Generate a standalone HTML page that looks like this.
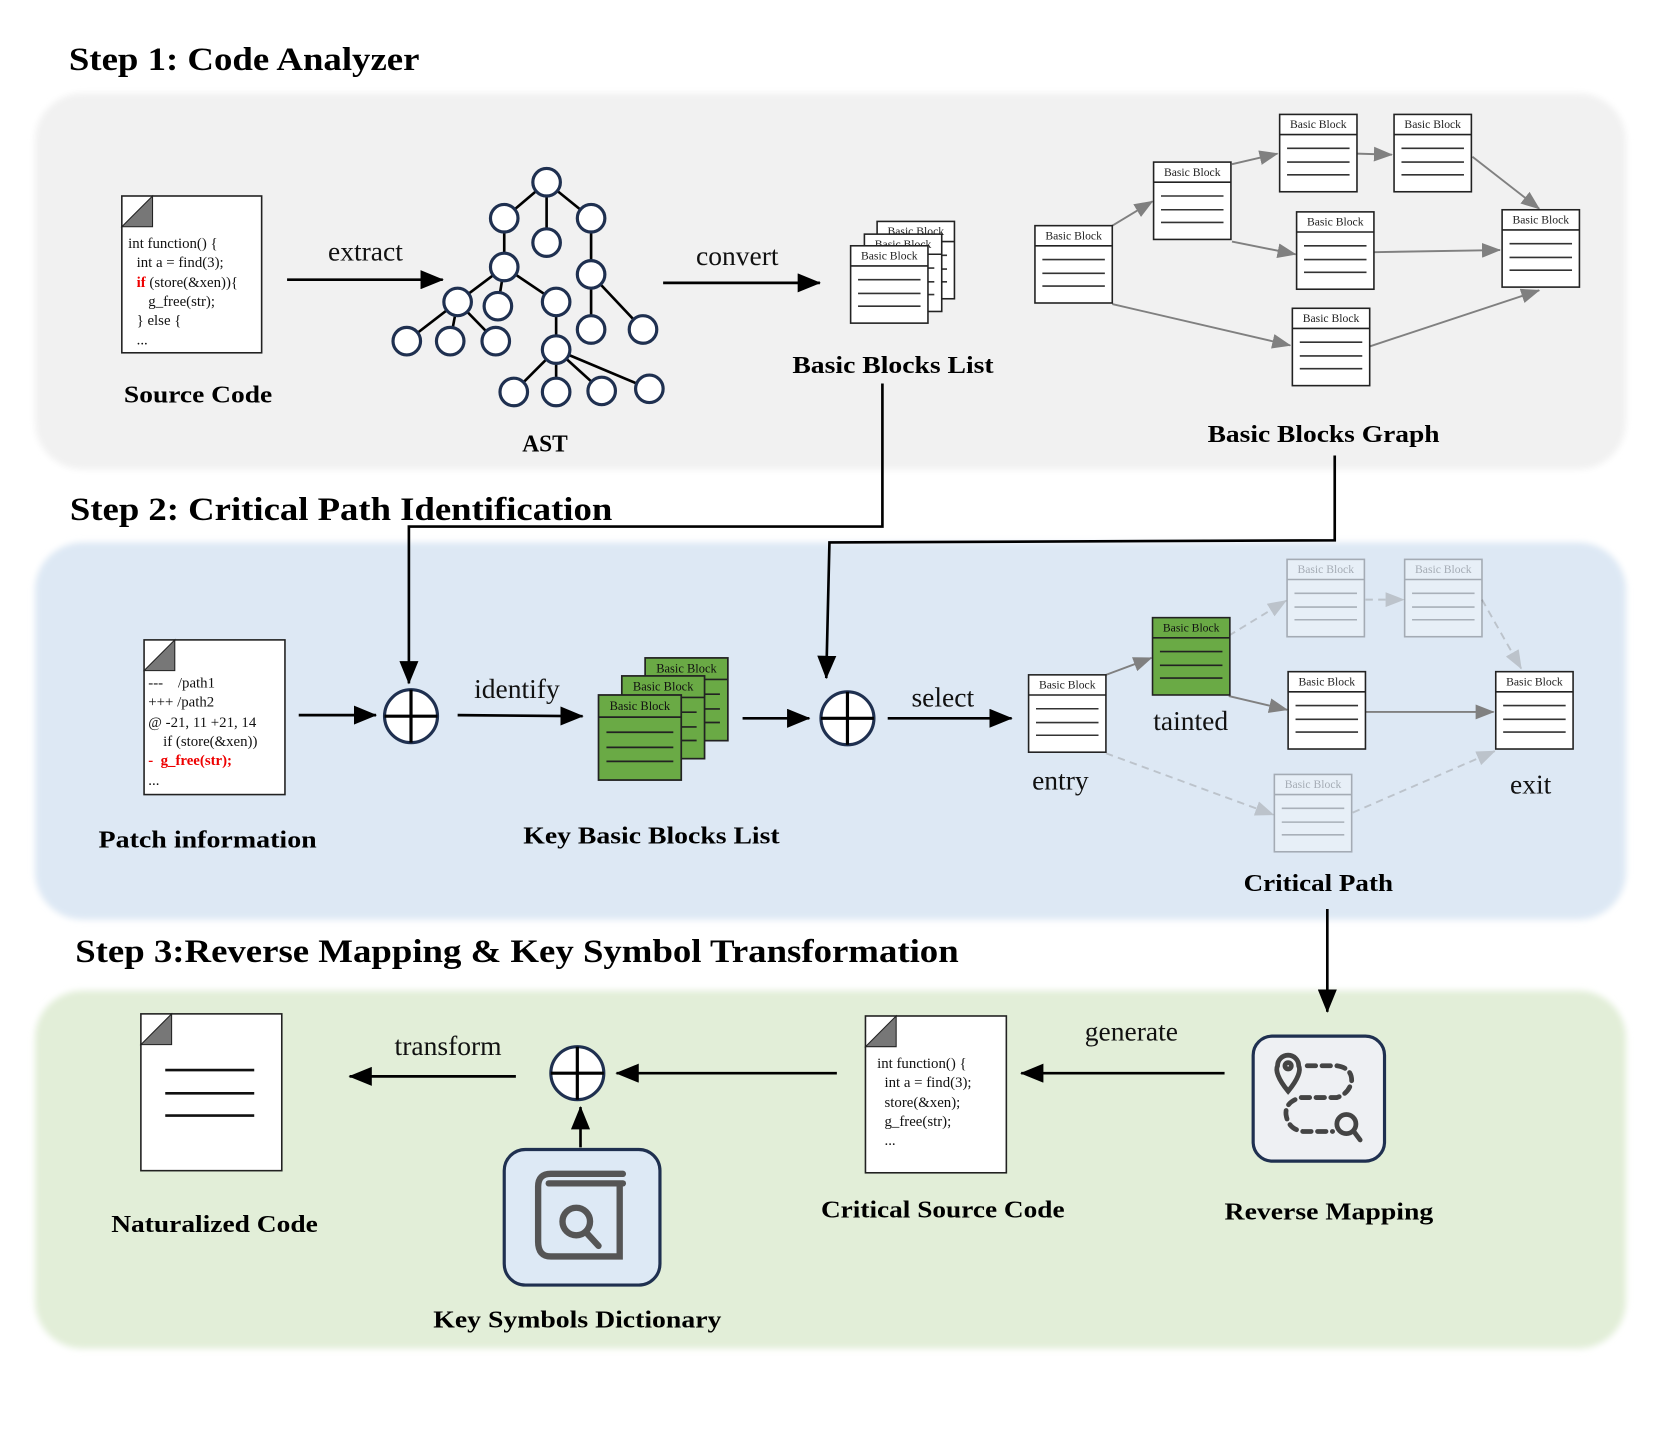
<!DOCTYPE html>
<html><head><meta charset="utf-8"><style>html,body{margin:0;padding:0;background:#fff}svg{display:block}</style></head>
<body>
<svg width="1661" height="1444" viewBox="0 0 1568 1363" preserveAspectRatio="none" xmlns="http://www.w3.org/2000/svg" font-family="'Liberation Serif', serif">
<defs>
<marker id="abig" markerWidth="22" markerHeight="18" refX="21" refY="9" orient="auto" markerUnits="userSpaceOnUse"><path d="M0,0 L22,9 L0,18z" fill="#000"/></marker>
<marker id="ag" markerWidth="18" markerHeight="14" refX="17" refY="7" orient="auto" markerUnits="userSpaceOnUse"><path d="M0,0 L18,7 L0,14z" fill="#808080"/></marker>
<marker id="af" markerWidth="18" markerHeight="14" refX="17" refY="7" orient="auto" markerUnits="userSpaceOnUse"><path d="M0,0 L18,7 L0,14z" fill="#bcc3cb"/></marker>
<g id="bb">
<rect x="0" y="0" width="73" height="73" fill="#fff" stroke="#222" stroke-width="1.5"/>
<line x1="0" y1="19" x2="73" y2="19" stroke="#222" stroke-width="1.5"/>
<text x="36.5" y="13" font-size="11" text-anchor="middle" fill="#222">Basic Block</text>
<line x1="7" y1="32" x2="66" y2="32" stroke="#333" stroke-width="1.5"/>
<line x1="7" y1="45" x2="66" y2="45" stroke="#333" stroke-width="1.5"/>
<line x1="7" y1="57" x2="66" y2="57" stroke="#333" stroke-width="1.5"/>
</g>
<g id="bbf" opacity="0.3"><use href="#bb"/></g>
<g id="bbg">
<rect x="0" y="0" width="73" height="73" fill="#6aaa45" stroke="#222" stroke-width="1.5"/>
<line x1="0" y1="19" x2="73" y2="19" stroke="#222" stroke-width="1.5"/>
<text x="36.5" y="13" font-size="11" text-anchor="middle" fill="#111">Basic Block</text>
<line x1="7" y1="32" x2="66" y2="32" stroke="#222" stroke-width="1.5"/>
<line x1="7" y1="45" x2="66" y2="45" stroke="#222" stroke-width="1.5"/>
<line x1="7" y1="57" x2="66" y2="57" stroke="#222" stroke-width="1.5"/>
</g>
<g id="ox"><circle r="25" fill="#fff" stroke="#1f3050" stroke-width="3"/><line x1="-25" y1="0" x2="25" y2="0" stroke="#000" stroke-width="3"/><line x1="0" y1="-25" x2="0" y2="25" stroke="#000" stroke-width="3"/></g>
<filter id="blur"><feGaussianBlur stdDeviation="3"/></filter>
</defs>

<rect x="33" y="88" width="1502" height="355" rx="45" fill="#f1f1f1" filter="url(#blur)"/>
<rect x="33" y="512" width="1502" height="356" rx="45" fill="#dde8f4" filter="url(#blur)"/>
<rect x="33" y="935" width="1502" height="338" rx="45" fill="#e2eed8" filter="url(#blur)"/>

<g font-weight="bold" font-size="31" fill="#000" lengthAdjust="spacingAndGlyphs">
<text x="65" y="66" textLength="331" lengthAdjust="spacingAndGlyphs">Step 1: Code Analyzer</text>
<text x="66" y="491" textLength="512" lengthAdjust="spacingAndGlyphs">Step 2: Critical Path Identification</text>
<text x="71" y="908" textLength="834" lengthAdjust="spacingAndGlyphs">Step 3:Reverse Mapping &amp; Key Symbol Transformation</text>
</g>

<rect x="115" y="185" width="132" height="148" fill="#fff" stroke="#222" stroke-width="1.5"/>
<path d="M115,214 L144,185 L144,214z" fill="#777" stroke="#222"/>
<g font-size="14" fill="#111">
<text x="121" y="234">int function() {</text>
<text x="129" y="252">int a = find(3);</text>
<text x="129" y="271"><tspan fill="#e00" font-weight="bold">if</tspan> (store(&amp;xen)){</text>
<text x="140" y="289">g_free(str);</text>
<text x="129" y="307">} else {</text>
<text x="129" y="325">...</text>
</g>

<g font-size="26" fill="#111">
<text x="345" y="246" text-anchor="middle">extract</text>
<text x="696" y="250" text-anchor="middle">convert</text>
<text x="488" y="659" text-anchor="middle">identify</text>
<text x="890" y="667" text-anchor="middle">select</text>
<text x="1124" y="689" text-anchor="middle">tainted</text>
<text x="1001" y="745" text-anchor="middle">entry</text>
<text x="1445" y="749" text-anchor="middle">exit</text>
<text x="423" y="996" text-anchor="middle">transform</text>
<text x="1068" y="982" text-anchor="middle">generate</text>
</g>
<g stroke="#000" stroke-width="2.5" fill="none">
<line x1="271" y1="264" x2="418" y2="264" marker-end="url(#abig)"/>
<line x1="626" y1="267" x2="774" y2="267" marker-end="url(#abig)"/>
</g>

<g stroke="#000" stroke-width="2.5">
<line x1="516" y1="172" x2="476" y2="206"/><line x1="516" y1="172" x2="516" y2="229"/><line x1="516" y1="172" x2="558" y2="206"/>
<line x1="476" y1="206" x2="476" y2="252"/><line x1="558" y1="206" x2="558" y2="259"/>
<line x1="476" y1="252" x2="432" y2="285"/><line x1="476" y1="252" x2="470" y2="289"/><line x1="476" y1="252" x2="525" y2="285"/>
<line x1="432" y1="285" x2="384" y2="322"/><line x1="432" y1="285" x2="425" y2="322"/><line x1="432" y1="285" x2="468" y2="322"/>
<line x1="558" y1="259" x2="558" y2="311"/><line x1="558" y1="259" x2="607" y2="311"/>
<line x1="525" y1="285" x2="525" y2="330"/>
<line x1="525" y1="330" x2="485" y2="370"/><line x1="525" y1="330" x2="525" y2="370"/><line x1="525" y1="330" x2="568" y2="369"/><line x1="525" y1="330" x2="613" y2="367"/>
</g>
<g fill="#fff" stroke="#1f3050" stroke-width="3">
<circle cx="516" cy="172" r="13"/><circle cx="476" cy="206" r="13"/><circle cx="516" cy="229" r="13"/><circle cx="558" cy="206" r="13"/>
<circle cx="476" cy="252" r="13"/><circle cx="558" cy="259" r="13"/><circle cx="432" cy="285" r="13"/><circle cx="470" cy="289" r="13"/><circle cx="525" cy="285" r="13"/>
<circle cx="384" cy="322" r="13"/><circle cx="425" cy="322" r="13"/><circle cx="468" cy="322" r="13"/><circle cx="558" cy="311" r="13"/><circle cx="607" cy="311" r="13"/>
<circle cx="525" cy="330" r="13"/><circle cx="485" cy="370" r="13"/><circle cx="525" cy="370" r="13"/><circle cx="568" cy="369" r="13"/><circle cx="613" cy="367" r="13"/>
</g>

<use href="#bb" x="828" y="209"/><use href="#bb" x="816" y="221"/><use href="#bb" x="803" y="232"/>

<g stroke="#808080" stroke-width="1.8" fill="none">
<line x1="1050" y1="213" x2="1088" y2="190" marker-end="url(#ag)"/>
<line x1="1163" y1="155" x2="1206" y2="145" marker-end="url(#ag)"/>
<line x1="1281" y1="145" x2="1314" y2="146" marker-end="url(#ag)"/>
<line x1="1390" y1="148" x2="1453" y2="197" marker-end="url(#ag)"/>
<line x1="1163" y1="228" x2="1223" y2="240" marker-end="url(#ag)"/>
<line x1="1297" y1="238" x2="1416" y2="236" marker-end="url(#ag)"/>
<line x1="1050" y1="287" x2="1218" y2="326" marker-end="url(#ag)"/>
<line x1="1293" y1="327" x2="1453" y2="274" marker-end="url(#ag)"/>
</g>
<use href="#bb" x="977" y="213"/><use href="#bb" x="1089" y="153"/><use href="#bb" x="1208" y="108"/><use href="#bb" x="1316" y="108"/>
<use href="#bb" x="1224" y="200"/><use href="#bb" x="1418" y="198"/><use href="#bb" x="1220" y="291"/>

<g font-weight="bold" font-size="23" fill="#000">
<text x="117" y="380" textLength="140" lengthAdjust="spacingAndGlyphs">Source Code</text>
<text x="493" y="426" textLength="43" lengthAdjust="spacingAndGlyphs">AST</text>
<text x="748" y="352" textLength="190" lengthAdjust="spacingAndGlyphs">Basic Blocks List</text>
<text x="1140" y="417" textLength="219" lengthAdjust="spacingAndGlyphs">Basic Blocks Graph</text>
<text x="93" y="800" textLength="206" lengthAdjust="spacingAndGlyphs">Patch information</text>
<text x="494" y="796" textLength="242" lengthAdjust="spacingAndGlyphs">Key Basic Blocks List</text>
<text x="1174" y="841" textLength="141" lengthAdjust="spacingAndGlyphs">Critical Path</text>
<text x="105" y="1163" textLength="195" lengthAdjust="spacingAndGlyphs">Naturalized Code</text>
<text x="409" y="1253" textLength="272" lengthAdjust="spacingAndGlyphs">Key Symbols Dictionary</text>
<text x="775" y="1149" textLength="230" lengthAdjust="spacingAndGlyphs">Critical Source Code</text>
<text x="1156" y="1151" textLength="197" lengthAdjust="spacingAndGlyphs">Reverse Mapping</text>
</g>

<polyline points="833,362 833,497 386,497 386,645" fill="none" stroke="#000" stroke-width="2.5" marker-end="url(#abig)"/>
<polyline points="1260,430 1260,510 783,512 780,640" fill="none" stroke="#000" stroke-width="2.5" marker-end="url(#abig)"/>

<rect x="136" y="604" width="133" height="146" fill="#fff" stroke="#222" stroke-width="1.5"/>
<path d="M136,633 L165,604 L165,633z" fill="#777" stroke="#222"/>
<g font-size="14" fill="#111">
<text x="140" y="649">---&#160;&#160;&#160;&#160;/path1</text>
<text x="140" y="667">+++ /path2</text>
<text x="140" y="686">@ -21, 11 +21, 14</text>
<text x="154" y="704">if (store(&amp;xen))</text>
<text x="140" y="722" fill="#e00" font-weight="bold">-&#160;&#160;g_free(str);</text>
<text x="140" y="741">...</text>
</g>
<g stroke="#000" stroke-width="2.5" fill="none">
<line x1="282" y1="675" x2="355" y2="675" marker-end="url(#abig)"/>
<line x1="432" y1="675" x2="550" y2="676" marker-end="url(#abig)"/>
<line x1="701" y1="678" x2="764" y2="678" marker-end="url(#abig)"/>
<line x1="838" y1="678" x2="955" y2="678" marker-end="url(#abig)"/>
</g>
<use href="#ox" x="388" y="676"/>
<use href="#ox" x="800" y="678"/>
<use href="#bbg" x="609" y="621" transform="translate(609,621) scale(1.07,1.07) translate(-609,-621)"/>
<use href="#bbg" x="587" y="638" transform="translate(587,638) scale(1.07,1.07) translate(-587,-638)"/>
<use href="#bbg" x="565" y="656" transform="translate(565,656) scale(1.07,1.1) translate(-565,-656)"/>

<g stroke-width="1.8" fill="none">
<line x1="1044" y1="637" x2="1087" y2="621" stroke="#808080" marker-end="url(#ag)"/>
<line x1="1160" y1="657" x2="1215" y2="670" stroke="#808080" marker-end="url(#ag)"/>
<line x1="1289" y1="672" x2="1410" y2="672" stroke="#808080" marker-end="url(#ag)"/>
<g stroke="#bcc3cb" stroke-dasharray="7,5">
<line x1="1160" y1="600" x2="1214" y2="567" marker-end="url(#af)"/>
<line x1="1289" y1="566" x2="1325" y2="566" marker-end="url(#af)"/>
<line x1="1399" y1="566" x2="1436" y2="631" marker-end="url(#af)"/>
<line x1="1044" y1="711" x2="1202" y2="769" marker-end="url(#af)"/>
<line x1="1277" y1="767" x2="1411" y2="709" marker-end="url(#af)"/>
</g>
</g>
<use href="#bb" x="971" y="637"/>
<use href="#bbg" x="1088" y="583"/>
<use href="#bbf" x="1215" y="528"/><use href="#bbf" x="1326" y="528"/>
<use href="#bb" x="1216" y="634"/><use href="#bb" x="1412" y="634"/>
<use href="#bbf" x="1203" y="731"/>

<line x1="1253" y1="858" x2="1253" y2="955" stroke="#000" stroke-width="2.5" marker-end="url(#abig)"/>

<rect x="133" y="957" width="133" height="148" fill="#fff" stroke="#222" stroke-width="1.5"/>
<path d="M133,986 L162,957 L162,986z" fill="#777" stroke="#222"/>
<g stroke="#111" stroke-width="2.5"><line x1="156" y1="1010" x2="240" y2="1010"/><line x1="156" y1="1032" x2="240" y2="1032"/><line x1="156" y1="1053" x2="240" y2="1053"/></g>

<g stroke="#000" stroke-width="2.5" fill="none">
<line x1="487" y1="1016" x2="330" y2="1016" marker-end="url(#abig)"/>
<line x1="790" y1="1013" x2="582" y2="1013" marker-end="url(#abig)"/>
<line x1="548" y1="1083" x2="548" y2="1045" marker-end="url(#abig)"/>
<line x1="1156" y1="1013" x2="964" y2="1013" marker-end="url(#abig)"/>
</g>
<use href="#ox" x="545" y="1013"/>

<rect x="476" y="1085" width="147" height="128" rx="20" fill="#dde9f5" stroke="#1f3050" stroke-width="3"/>
<g stroke="#555" stroke-width="6" fill="none" stroke-linecap="round">
<path d="M585,1120 L585,1186 L520,1186 Q508,1186 508,1172 L508,1120 Q508,1108 520,1108 L588,1108"/>
<line x1="518" y1="1117" x2="588" y2="1117"/>
<circle cx="544" cy="1153" r="13"/>
<line x1="554" y1="1164" x2="565" y2="1176"/>
</g>

<rect x="817" y="959" width="133" height="148" fill="#fff" stroke="#222" stroke-width="1.5"/>
<path d="M817,988 L846,959 L846,988z" fill="#777" stroke="#222"/>
<g font-size="14" fill="#111">
<text x="828" y="1008">int function() {</text>
<text x="835" y="1026">int a = find(3);</text>
<text x="835" y="1045">store(&amp;xen);</text>
<text x="835" y="1063">g_free(str);</text>
<text x="835" y="1081">...</text>
</g>

<rect x="1183" y="978" width="124" height="118" rx="18" fill="#eef0f3" stroke="#1f3050" stroke-width="3"/>
<g stroke="#444" stroke-width="4.5" fill="none" stroke-linecap="round">
<path d="M1216,1030 C1206,1018 1204,1010 1206,1006 A10,10 0 1 1 1226,1006 C1228,1010 1226,1018 1216,1030 Z"/>
<circle cx="1216" cy="1006" r="3"/>
<path d="M1234,1006 H1262 Q1276,1008 1276,1020 Q1274,1032 1262,1036 H1228 Q1213,1040 1214,1052 Q1216,1066 1230,1068 H1258" stroke-dasharray="8,6"/>
<circle cx="1271" cy="1061" r="9"/>
<line x1="1278" y1="1068" x2="1284" y2="1076"/>
</g>
</svg>
</body></html>
